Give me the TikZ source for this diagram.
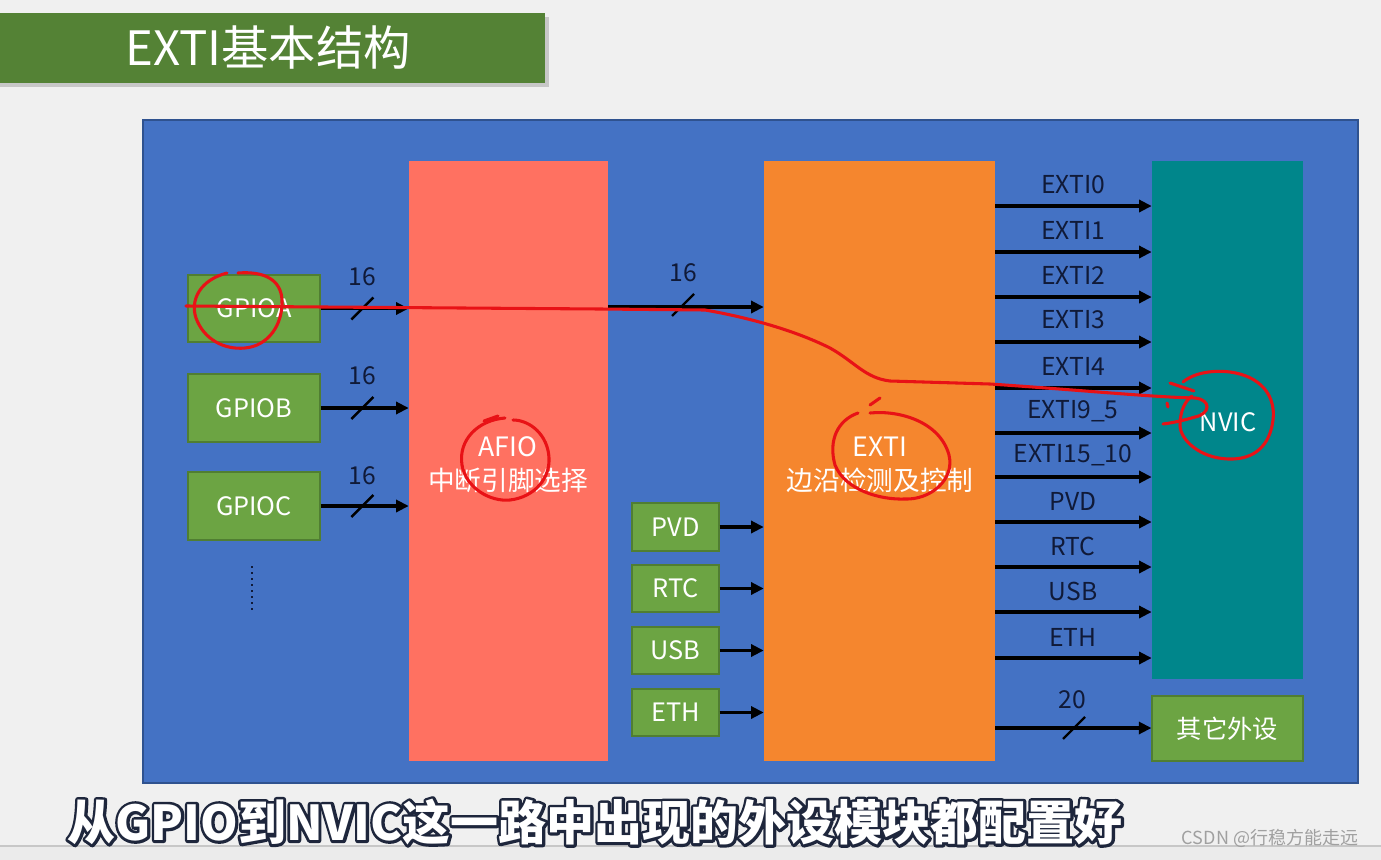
\documentclass[tikz,border=0pt]{standalone}
\usepackage{fontspec}
\setmainfont{Noto Sans CJK SC}
\usetikzlibrary{arrows.meta,fit}
\definecolor{bgc}{RGB}{240,240,240}
\definecolor{titleg}{RGB}{84,130,53}
\definecolor{panel}{RGB}{68,114,196}
\definecolor{panelb}{RGB}{47,82,143}
\definecolor{gbox}{RGB}{108,164,67}
\definecolor{gboxb}{RGB}{80,126,50}
\definecolor{afioc}{RGB}{255,113,97}
\definecolor{extic}{RGB}{245,134,46}
\definecolor{nvicc}{RGB}{0,134,139}
\definecolor{ink}{RGB}{16,26,56}
\definecolor{redmark}{RGB}{232,18,22}
\definecolor{outl}{RGB}{30,38,60}
\definecolor{wm}{RGB}{160,160,160}
\newcommand{\outlinedtext}[1]{\rlap{\textcolor{outl}{\special{pdf:literal direct 4.2 w 1 j 2 Tr}#1\special{pdf:literal direct 0 Tr}}}#1}
\tikzset{
  blk/.style={inner sep=0pt, text=white, font=\fontsize{19pt}{22pt}\selectfont},
  boxtxt/.style={inner sep=0pt, text=white, font=\fontsize{19pt}{22pt}\selectfont},
  greenbox/.style={inner sep=0pt, fill=gbox, draw=gboxb, line width=0.8pt},
  lbl/.style={text=ink, inner sep=0pt, font=\fontsize{18.5pt}{22pt}\selectfont},
  arr/.style={draw=black, line width=2.5pt, -{Triangle[length=9.5pt,width=9pt]}},
  sl/.style={draw=black, line width=1.8pt},
  redline/.style={draw=redmark, line width=2.3pt, line cap=round, line join=round},
}
\begin{document}
\begin{tikzpicture}[x=0.75pt,y=-0.75pt]
\useasboundingbox (0,0) rectangle (1381,860);
\fill[bgc] (0,0) rectangle (1381,860);
\fill[black!8] (0,846) rectangle (1381,860);
\draw[black!22, line width=0.8pt] (0,846) -- (1381,846);
% title
\fill[black!22] (0,17) rectangle (549,87);
\node[inner sep=0pt, fill=titleg, fit={(0,13) (545,83)}] (title) {};
\node[text=white, inner sep=0pt, font=\fontsize{35.5pt}{40pt}\selectfont] (titletxt) at (268,48) {EXTI基本结构};
% panel
\node[fill=panel, draw=panelb, line width=1pt, inner sep=0pt, fit={(143,120) (1358,783)}] (panel) {};
% GPIO boxes
\node[greenbox, fit={(188,275) (320,342)}] (gpioa) {};
\node[greenbox, fit={(188,374) (320,442)}] (gpiob) {};
\node[greenbox, fit={(188,472) (320,540)}] (gpioc) {};
\node[boxtxt] (gpioat) at (gpioa.center) {GPIOA};
\node[boxtxt] (gpiobt) at (gpiob.center) {GPIOB};
\node[boxtxt] (gpioct) at (gpioc.center) {GPIOC};
\draw[ink, line width=1.8pt, dash pattern=on 1.5pt off 3pt] (252,566) -- (252,614);
% AFIO
\node[inner sep=0pt, fill=afioc, fit={(409,161) (608,761)}] (afio) {};
\node[boxtxt, font=\fontsize{20pt}{24pt}\selectfont] (afiot) at (508,447) {AFIO};
\node[boxtxt, font=\fontsize{20pt}{24pt}\selectfont] (afiot2) at (508,480) {中断引脚选择};
% EXTI
\node[inner sep=0pt, fill=extic, fit={(764,161) (995,761)}] (exti) {};
\node[boxtxt, font=\fontsize{20pt}{24pt}\selectfont] (extit) at (880,447) {EXTI};
\node[boxtxt, font=\fontsize{20pt}{24pt}\selectfont] (extit2) at (880,480) {边沿检测及控制};
% NVIC
\node[inner sep=0pt, fill=nvicc, fit={(1152,161) (1303,679)}] (nvic) {};
\node[boxtxt] (nvict) at (1228,422) {NVIC};
\node[greenbox, fit={(1152,696) (1303,761)}] (other) {};
\node[boxtxt] (othert) at (other.center) {其它外设};
% small peripheral boxes
\node[greenbox, fit={(632,503) (719,551)}] (pvd) {};
\node[greenbox, fit={(632,565) (719,612)}] (rtc) {};
\node[greenbox, fit={(632,627) (719,674)}] (usb) {};
\node[greenbox, fit={(632,689) (719,736)}] (eth) {};
\node[boxtxt] (pvdt) at (pvd.center) {PVD};
\node[boxtxt] (rtct) at (rtc.center) {RTC};
\node[boxtxt] (usbt) at (usb.center) {USB};
\node[boxtxt] (etht) at (eth.center) {ETH};
\foreach \b in {pvd,rtc,usb,eth}
  \draw[arr] (\b.east) -- (\b.east -| exti.west);
% GPIO -> AFIO
\foreach \g/\ly in {gpioa/277,gpiob/376,gpioc/476}{
  \draw[arr] (\g.east) -- (\g.east -| afio.west);
  \path (\g.east) -- (\g.east -| afio.west) coordinate[pos=0.475] (m\g);
  \draw[sl] ([shift={(-11,11)}]m\g) -- ([shift={(11,-11)}]m\g);
  \node[lbl] (n\g) at (362,\ly) {16};
}
% AFIO -> EXTI
\coordinate (ye) at (700,307);
\draw[arr] (afio.east |- ye) -- (exti.west |- ye);
\coordinate (mae) at (683,305);
\draw[sl] ([shift={(-11,11)}]mae) -- ([shift={(11,-11)}]mae);
\node[lbl] (nae) at (683,273) {16};
% EXTI -> NVIC
\foreach \lab/\y/\ly [count=\i] in {EXTI0/206/185,EXTI1/252/230,EXTI2/297/275,EXTI3/342/320,EXTI4/388/366,EXTI9\_5/433/411,EXTI15\_10/477/455,PVD/522/501,RTC/567/546,USB/612/591,ETH/658/637}{
  \coordinate (o\i) at (1000,\y);
  \draw[arr] (exti.east |- o\i) -- (nvic.west |- o\i);
  \node[lbl] (ol\i) at (1073,\ly) {\lab};
}
% 20 lines to other peripherals
\coordinate (y20) at (1000,728);
\draw[arr] (exti.east |- y20) -- (other.west |- y20);
\coordinate (m20) at (1074,728);
\draw[sl] ([shift={(-11,11)}]m20) -- ([shift={(11,-11)}]m20);
\node[lbl] (n20) at (1072,700) {20};
% red annotations
\draw[redline] (186,306) -- (600,309) -- (705,310)
  .. controls (740,316) and (790,328) .. (830,348)
  .. controls (855,362) and (865,378) .. (890,381)
  -- (990,384) .. controls (1080,390) and (1150,397) .. (1195,398)
  .. controls (1212,400) and (1210,414) .. (1195,417)
  .. controls (1185,420) and (1172,423) .. (1163,424);
\draw[redline] (1170,383) -- (1194,391);
\draw[redline] (1167,403) -- (1168,407);
\draw[redline] (227,273) .. controls (200,280) and (190,300) .. (196,318)
  .. controls (204,340) and (225,350) .. (245,348)
  .. controls (268,346) and (283,325) .. (282,300)
  .. controls (281,280) and (265,271) .. (238,273);
\draw[redline] (484,421) -- (498,416);
\draw[redline] (505,418) .. controls (478,420) and (458,440) .. (462,465)
  .. controls (466,488) and (490,502) .. (510,500)
  .. controls (535,497) and (550,478) .. (549,458)
  .. controls (548,435) and (530,420) .. (513,420);
\draw[redline] (880,398) -- (870,405);
\draw[redline] (870,413) .. controls (900,410) and (940,422) .. (949,455)
  .. controls (955,480) and (930,500) .. (905,499)
  .. controls (880,500) and (845,490) .. (835,465)
  .. controls (828,440) and (838,420) .. (858,413);
\draw[redline] (1183,382) .. controls (1195,372) and (1215,370) .. (1230,372)
  .. controls (1260,376) and (1276,395) .. (1273,420)
  .. controls (1270,445) and (1255,460) .. (1228,459)
  .. controls (1200,458) and (1180,440) .. (1180,425)
  .. controls (1180,410) and (1186,400) .. (1192,396);
% subtitle with outline
\node[text=white, inner sep=0pt, font=\bfseries\fontsize{36pt}{40pt}\selectfont] (sub) at (595,822) {\outlinedtext{从GPIO到NVIC这一路中出现的外设模块都配置好}};
\node[text=wm, inner sep=0pt, font=\fontsize{13.5pt}{16pt}\selectfont] (wmark) at (1270,838) {CSDN @行稳方能走远};
\end{tikzpicture}
\end{document}
